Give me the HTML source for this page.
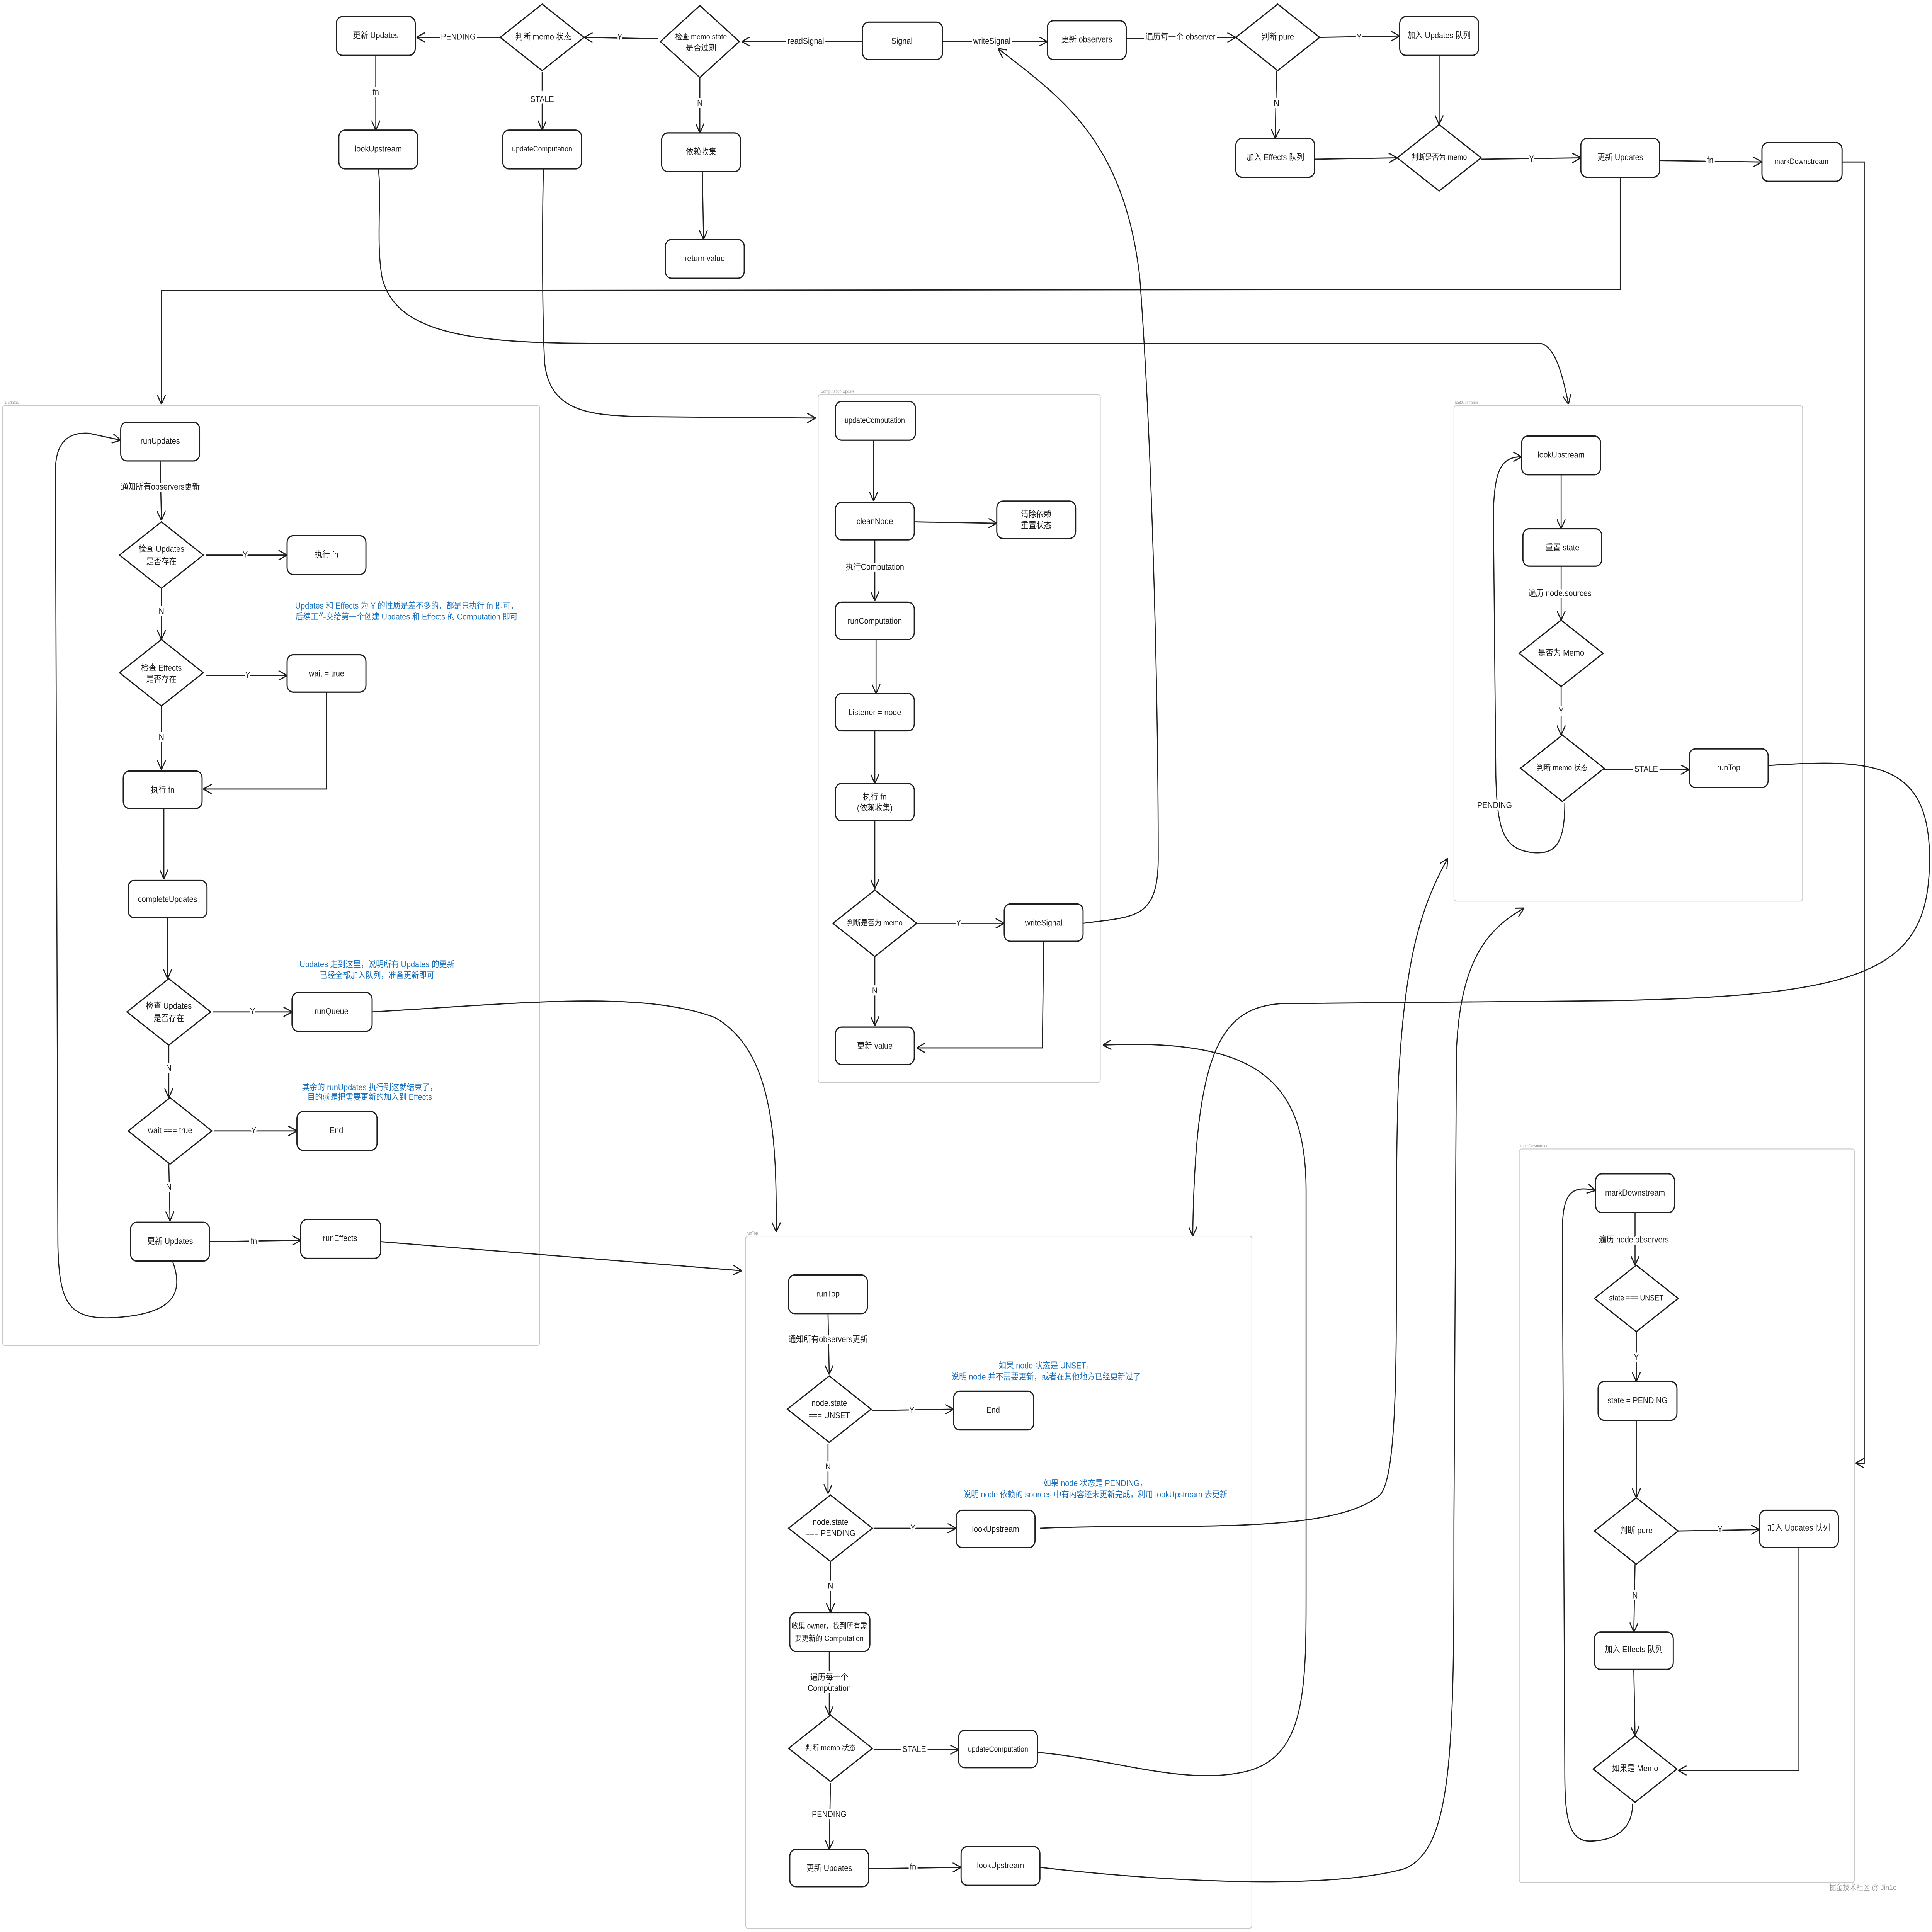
<!DOCTYPE html>
<html><head><meta charset="utf-8"><style>
html,body{margin:0;padding:0;background:#fff;width:100%;height:100%;overflow:hidden;}
svg{display:block;width:100vw;height:100vh;}
text{font-family:"Liberation Sans","Noto Sans CJK SC",sans-serif;font-size:6.2px;fill:#1e1e1e;text-anchor:middle;dominant-baseline:middle;}
.b{fill:#1971c2;}
.s{font-size:3px;fill:#999;text-anchor:start;}
.n{fill:#fff;stroke:#1e1e1e;stroke-width:0.9;}
.c{fill:none;stroke:#c8c8c8;stroke-width:0.6;}
.e{fill:none;stroke:#1e1e1e;stroke-width:0.8;}
.lb{paint-order:stroke;stroke:#fff;stroke-width:3px;}
</style></head><body>
<svg viewBox="0 0 1568 1395.7" preserveAspectRatio="none" xmlns="http://www.w3.org/2000/svg">
<defs>
<marker id="a" viewBox="0 0 10 10" refX="10" refY="5" markerWidth="7" markerHeight="7" markerUnits="userSpaceOnUse" orient="auto"><path d="M0,0 L10,5 L0,10" fill="none" stroke="#1e1e1e" stroke-width="1.2"/></marker>
</defs>
<rect width="1568" height="1396" fill="#fff"/>

<rect class="c" x="2" y="293" width="436" height="679" rx="2"/><text class="s" x="4" y="291">Updates</text>
<rect class="c" x="664" y="285" width="229" height="497" rx="2"/><text class="s" x="666" y="283">Computation Update</text>
<rect class="c" x="1180" y="293" width="283" height="358" rx="2"/><text class="s" x="1181" y="291">lookUpstream</text>
<rect class="c" x="1233" y="830" width="272" height="530" rx="2"/><text class="s" x="1234" y="828">markDownstream</text>
<rect class="c" x="605" y="893" width="411" height="500" rx="2"/><text class="s" x="606" y="891">runTop</text>

<g class="e">
<path d="M700,30 L602,30" marker-end="url(#a)"/>
<path d="M534,28 L474,27" marker-end="url(#a)"/>
<path d="M406,27 L338,27" marker-end="url(#a)"/>
<path d="M305,40 L305,94" marker-end="url(#a)"/>
<path d="M440,52 L440,94" marker-end="url(#a)"/>
<path d="M568,56 L568,96" marker-end="url(#a)"/>
<path d="M570,124 L571,173" marker-end="url(#a)"/>
<path d="M765,30 L850,30" marker-end="url(#a)"/>
<path d="M914,28 L1003,27" marker-end="url(#a)"/>
<path d="M1071,27 L1136,26" marker-end="url(#a)"/>
<path d="M1036,51 L1035,100" marker-end="url(#a)"/>
<path d="M1168,40 L1168,90" marker-end="url(#a)"/>
<path d="M1067,115 L1134,114" marker-end="url(#a)"/>
<path d="M1202,115 L1283,114" marker-end="url(#a)"/>
<path d="M1347,116 L1430,117" marker-end="url(#a)"/>
<path d="M1495,117 L1513,117 L1513,1057 L1506,1057" marker-end="url(#a)"/>
<path d="M1315,128 L1315,209 L131,210 L131,292" marker-end="url(#a)"/>
<path d="M307,122 C310,140 305,175 310,200 C320,240 380,248 480,248 L1250,248 C1262,250 1268,270 1273,292" marker-end="url(#a)"/>
<path d="M441,122 C440,160 440,230 442,262 C446,298 480,300 520,301 L662,302" marker-end="url(#a)"/>
<path d="M879,667 C920,662 940,665 940,620 C940,500 935,320 925,200 C912,100 860,70 810,35" marker-end="url(#a)"/>
<path d="M130,333 L131,376" marker-end="url(#a)"/>
<path d="M167,401 L233,401" marker-end="url(#a)"/>
<path d="M131,425 L131,462" marker-end="url(#a)"/>
<path d="M167,488 L233,488" marker-end="url(#a)"/>
<path d="M131,510 L131,556" marker-end="url(#a)"/>
<path d="M265,500 L265,570 L165,570" marker-end="url(#a)"/>
<path d="M133,584 L133,635" marker-end="url(#a)"/>
<path d="M136,663 L136,707" marker-end="url(#a)"/>
<path d="M173,731 L237,731" marker-end="url(#a)"/>
<path d="M137,755 L137,793" marker-end="url(#a)"/>
<path d="M174,817 L241,817" marker-end="url(#a)"/>
<path d="M137,841 L138,882" marker-end="url(#a)"/>
<path d="M170,897 L244,896" marker-end="url(#a)"/>
<path d="M140,911 C150,935 140,950 90,952 C55,953 48,940 47,900 L45,340 C45,320 55,312 72,313 L98,318" marker-end="url(#a)"/>
<path d="M302,731 C420,725 520,715 580,735 C630,760 630,830 630,890" marker-end="url(#a)"/>
<path d="M309,897 L602,918" marker-end="url(#a)"/>
<path d="M709,318 L709,362" marker-end="url(#a)"/>
<path d="M742,377 L809,378" marker-end="url(#a)"/>
<path d="M710,390 L710,434" marker-end="url(#a)"/>
<path d="M711,462 L711,501" marker-end="url(#a)"/>
<path d="M710,528 L710,566" marker-end="url(#a)"/>
<path d="M710,593 L710,642" marker-end="url(#a)"/>
<path d="M744,667 L815,667" marker-end="url(#a)"/>
<path d="M710,691 L710,741" marker-end="url(#a)"/>
<path d="M847,680 L846,757 L744,757" marker-end="url(#a)"/>
<path d="M1267,343 L1267,382" marker-end="url(#a)"/>
<path d="M1267,409 L1267,448" marker-end="url(#a)"/>
<path d="M1267,496 L1267,531" marker-end="url(#a)"/>
<path d="M1302,556 L1371,556" marker-end="url(#a)"/>
<path d="M1270,580 C1270,610 1262,617 1245,616 C1220,614 1215,600 1214,560 L1212,370 C1213,340 1218,330 1235,330" marker-end="url(#a)"/>
<path d="M1435,553 C1520,548 1566,550 1566,620 C1566,700 1520,720 1300,723 L1040,725 C990,728 970,760 968,893" marker-end="url(#a)"/>
<path d="M1327,876 L1327,914" marker-end="url(#a)"/>
<path d="M1328,962 L1328,998" marker-end="url(#a)"/>
<path d="M1328,1026 L1328,1082" marker-end="url(#a)"/>
<path d="M1362,1106 L1428,1105" marker-end="url(#a)"/>
<path d="M1327,1130 L1326,1179" marker-end="url(#a)"/>
<path d="M1326,1206 L1327,1254" marker-end="url(#a)"/>
<path d="M1460,1118 L1460,1279 L1362,1279" marker-end="url(#a)"/>
<path d="M1325,1303 C1325,1322 1310,1330 1290,1330 C1272,1330 1270,1310 1270,1280 L1268,890 C1268,862 1275,856 1295,860" marker-end="url(#a)"/>
<path d="M672,949 L673,993" marker-end="url(#a)"/>
<path d="M708,1019 L774,1018" marker-end="url(#a)"/>
<path d="M672,1043 L672,1079" marker-end="url(#a)"/>
<path d="M709,1104 L776,1104" marker-end="url(#a)"/>
<path d="M674,1128 L674,1165" marker-end="url(#a)"/>
<path d="M673,1193 L673,1239" marker-end="url(#a)"/>
<path d="M709,1264 L778,1264" marker-end="url(#a)"/>
<path d="M674,1288 L673,1336" marker-end="url(#a)"/>
<path d="M705,1350 L780,1349" marker-end="url(#a)"/>
<path d="M844,1104 C950,1100 1080,1110 1120,1080 C1140,1060 1130,900 1135,780 C1140,700 1150,660 1175,620" marker-end="url(#a)"/>
<path d="M842,1266 C900,1270 960,1290 1010,1280 C1060,1270 1060,1220 1060,1150 L1060,860 C1060,780 1020,750 895,755" marker-end="url(#a)"/>
<path d="M844,1349 C950,1360 1080,1365 1140,1350 C1180,1335 1180,1260 1180,1100 L1182,760 C1185,690 1210,670 1237,656" marker-end="url(#a)"/>
</g>

<g class="n">
<rect x="273" y="12" width="64" height="28" rx="5"/>
<rect x="275" y="94" width="64" height="28" rx="5"/>
<rect x="408" y="94" width="64" height="28" rx="5"/>
<rect x="537" y="96" width="64" height="28" rx="5"/>
<rect x="540" y="173" width="64" height="28" rx="5"/>
<rect x="700" y="16" width="65" height="27" rx="5"/>
<rect x="850" y="15" width="64" height="28" rx="5"/>
<rect x="1136" y="12" width="64" height="28" rx="5"/>
<rect x="1003" y="100" width="64" height="28" rx="5"/>
<rect x="1283" y="100" width="64" height="28" rx="5"/>
<rect x="1430" y="103" width="65" height="28" rx="5"/>
<rect x="98" y="305" width="64" height="28" rx="5"/>
<rect x="233" y="387" width="64" height="28" rx="5"/>
<rect x="233" y="473" width="64" height="27" rx="5"/>
<rect x="100" y="557" width="64" height="27" rx="5"/>
<rect x="104" y="636" width="64" height="27" rx="5"/>
<rect x="237" y="717" width="65" height="28" rx="5"/>
<rect x="241" y="803" width="65" height="28" rx="5"/>
<rect x="106" y="883" width="64" height="28" rx="5"/>
<rect x="244" y="881" width="65" height="28" rx="5"/>
<rect x="678" y="290" width="65" height="28" rx="5"/>
<rect x="678" y="363" width="64" height="27" rx="5"/>
<rect x="809" y="362" width="64" height="27" rx="5"/>
<rect x="678" y="435" width="64" height="27" rx="5"/>
<rect x="678" y="501" width="64" height="27" rx="5"/>
<rect x="678" y="566" width="64" height="27" rx="5"/>
<rect x="815" y="653" width="64" height="27" rx="5"/>
<rect x="678" y="742" width="64" height="27" rx="5"/>
<rect x="1235" y="315" width="64" height="28" rx="5"/>
<rect x="1236" y="382" width="64" height="27" rx="5"/>
<rect x="1371" y="541" width="64" height="28" rx="5"/>
<rect x="1295" y="848" width="64" height="28" rx="5"/>
<rect x="1297" y="998" width="64" height="28" rx="5"/>
<rect x="1428" y="1091" width="64" height="27" rx="5"/>
<rect x="1294" y="1179" width="64" height="27" rx="5"/>
<rect x="640" y="921" width="64" height="28" rx="5"/>
<rect x="774" y="1005" width="65" height="28" rx="5"/>
<rect x="776" y="1091" width="64" height="27" rx="5"/>
<rect x="641" y="1165" width="65" height="28" rx="5"/>
<rect x="778" y="1250" width="64" height="27" rx="5"/>
<rect x="641" y="1336" width="64" height="27" rx="5"/>
<rect x="780" y="1334" width="64" height="28" rx="5"/>
<path d="M440,3 L474,27 L440,51 L406,27 Z"/>
<path d="M568,4 L600,30 L568,56 L536,30 Z"/>
<path d="M1037,3 L1071,27 L1037,51 L1003,27 Z"/>
<path d="M1168,90 L1202,114 L1168,138 L1134,114 Z"/>
<path d="M131,377 L165,401 L131,425 L97,401 Z"/>
<path d="M131,462 L165,486 L131,510 L97,486 Z"/>
<path d="M137,707 L171,731 L137,755 L103,731 Z"/>
<path d="M138,793 L172,817 L138,841 L104,817 Z"/>
<path d="M710,643 L744,667 L710,691 L676,667 Z"/>
<path d="M1267,448 L1301,472 L1267,496 L1233,472 Z"/>
<path d="M1268,531 L1302,555 L1268,579 L1234,555 Z"/>
<path d="M1328,914 L1362,938 L1328,962 L1294,938 Z"/>
<path d="M1328,1082 L1362,1106 L1328,1130 L1294,1106 Z"/>
<path d="M1327,1254 L1361,1278 L1327,1302 L1293,1278 Z"/>
<path d="M673,994 L707,1018 L673,1042 L639,1018 Z"/>
<path d="M674,1080 L708,1104 L674,1128 L640,1104 Z"/>
<path d="M674,1239 L708,1263 L674,1287 L640,1263 Z"/>
</g>

<text x="305" y="26">更新 Updates</text>
<text x="307" y="108">lookUpstream</text>
<text x="440" y="108" style="font-size:5.6px">updateComputation</text>
<text x="569" y="110">依赖收集</text>
<text x="572" y="187">return value</text>
<text x="732" y="30">Signal</text>
<text x="882" y="29">更新 observers</text>
<text x="1168" y="26">加入 Updates 队列</text>
<text x="1035" y="114">加入 Effects 队列</text>
<text x="1315" y="114">更新 Updates</text>
<text x="1462" y="117" style="font-size:5.6px">markDownstream</text>
<text x="441" y="27">判断 memo 状态</text>
<text x="569" y="27" style="font-size:5.6px">检查 memo state</text><text x="569" y="35">是否过期</text>
<text x="1037" y="27">判断 pure</text>
<text x="1168" y="114" style="font-size:5.6px">判断是否为 memo</text>
<text x="130" y="319">runUpdates</text>
<text x="265" y="401">执行 fn</text>
<text x="265" y="487">wait = true</text>
<text x="132" y="571">执行 fn</text>
<text x="136" y="650">completeUpdates</text>
<text x="269" y="731">runQueue</text>
<text x="273" y="817">End</text>
<text x="138" y="897">更新 Updates</text>
<text x="276" y="895">runEffects</text>
<text x="131" y="397">检查 Updates</text><text x="131" y="406">是否存在</text>
<text x="131" y="483">检查 Effects</text><text x="131" y="491">是否存在</text>
<text x="137" y="727">检查 Updates</text><text x="137" y="736">是否存在</text>
<text x="138" y="817">wait === true</text>
<text x="710" y="304" style="font-size:5.6px">updateComputation</text>
<text x="710" y="377">cleanNode</text>
<text x="841" y="372">清除依赖</text><text x="841" y="380">重置状态</text>
<text x="710" y="449">runComputation</text>
<text x="710" y="515">Listener = node</text>
<text x="710" y="576">执行 fn</text><text x="710" y="584">(依赖收集)</text>
<text x="847" y="667">writeSignal</text>
<text x="710" y="756">更新 value</text>
<text x="710" y="667" style="font-size:5.6px">判断是否为 memo</text>
<text x="1267" y="329">lookUpstream</text>
<text x="1268" y="396">重置 state</text>
<text x="1403" y="555">runTop</text>
<text x="1267" y="472">是否为 Memo</text>
<text x="1268" y="555" style="font-size:5.6px">判断 memo 状态</text>
<text x="1327" y="862">markDownstream</text>
<text x="1329" y="1012">state = PENDING</text>
<text x="1460" y="1104">加入 Updates 队列</text>
<text x="1326" y="1192">加入 Effects 队列</text>
<text x="1328" y="938" style="font-size:5.6px">state === UNSET</text>
<text x="1328" y="1106">判断 pure</text>
<text x="1327" y="1278">如果是 Memo</text>
<text x="672" y="935">runTop</text>
<text x="806" y="1019">End</text>
<text x="808" y="1105">lookUpstream</text>
<text x="673" y="1175" style="font-size:5.6px">收集 owner，找到所有需</text><text x="673" y="1184" style="font-size:5.6px">要更新的 Computation</text>
<text x="810" y="1264" style="font-size:5.6px">updateComputation</text>
<text x="673" y="1350">更新 Updates</text>
<text x="812" y="1348">lookUpstream</text>
<text x="673" y="1014">node.state</text><text x="673" y="1023">=== UNSET</text>
<text x="674" y="1100">node.state</text><text x="674" y="1108">=== PENDING</text>
<text x="674" y="1263" style="font-size:5.6px">判断 memo 状态</text>

<g class="lb">
<text x="654" y="30">readSignal</text>
<text x="503" y="27">Y</text>
<text x="372" y="27">PENDING</text>
<text x="305" y="67">fn</text>
<text x="440" y="72">STALE</text>
<text x="568" y="75">N</text>
<text x="805" y="30">writeSignal</text>
<text x="958" y="27">遍历每一个 observer</text>
<text x="1103" y="27">Y</text>
<text x="1036" y="75">N</text>
<text x="1243" y="115">Y</text>
<text x="1388" y="116">fn</text>
<text x="130" y="352">通知所有observers更新</text>
<text x="199" y="401">Y</text>
<text x="131" y="442">N</text>
<text x="201" y="488">Y</text>
<text x="131" y="533">N</text>
<text x="205" y="731">Y</text>
<text x="137" y="772">N</text>
<text x="206" y="817">Y</text>
<text x="137" y="858">N</text>
<text x="206" y="897">fn</text>
<text x="710" y="410">执行Computation</text>
<text x="778" y="667">Y</text>
<text x="710" y="716">N</text>
<text x="1266" y="429">遍历 node.sources</text>
<text x="1267" y="514">Y</text>
<text x="1336" y="556">STALE</text>
<text x="1213" y="582">PENDING</text>
<text x="1326" y="896">遍历 node.observers</text>
<text x="1328" y="981">Y</text>
<text x="1396" y="1105">Y</text>
<text x="1327" y="1153">N</text>
<text x="672" y="968">通知所有observers更新</text>
<text x="740" y="1019">Y</text>
<text x="672" y="1060">N</text>
<text x="741" y="1104">Y</text>
<text x="674" y="1146">N</text>
<text x="673" y="1212">遍历每一个</text><text x="673" y="1220">Computation</text>
<text x="742" y="1264">STALE</text>
<text x="673" y="1311">PENDING</text>
<text x="741" y="1349">fn</text>
</g>

<text class="b" x="330" y="438">Updates 和 Effects 为 Y 的性质是差不多的，都是只执行 fn 即可，</text>
<text class="b" x="330" y="446">后续工作交给第一个创建 Updates 和 Effects 的 Computation 即可</text>
<text class="b" x="306" y="697">Updates 走到这里，说明所有 Updates 的更新</text>
<text class="b" x="306" y="705">已经全部加入队列，准备更新即可</text>
<text class="b" x="300" y="786">其余的 runUpdates 执行到这就结束了，</text>
<text class="b" x="300" y="793">目的就是把需要更新的加入到 Effects</text>
<text class="b" x="849" y="987">如果 node 状态是 UNSET，</text>
<text class="b" x="849" y="995">说明 node 并不需要更新，或者在其他地方已经更新过了</text>
<text class="b" x="889" y="1072">如果 node 状态是 PENDING，</text>
<text class="b" x="889" y="1080">说明 node 依赖的 sources 中有内容还未更新完成，利用 lookUpstream 去更新</text>

<text x="1512" y="1364" style="font-size:5.5px;fill:#999">掘金技术社区 @ Jin1o</text>
</svg>
</body></html>
